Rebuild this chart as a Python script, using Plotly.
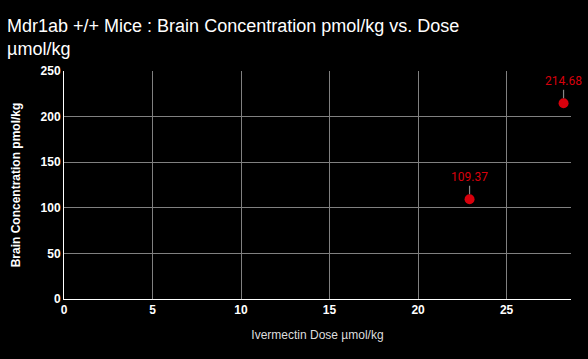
import plotly.graph_objects as go

dose = [22.91, 28.22]
brain_conc = [109.37, 214.68]
labels = ["109.37", "214.68"]

fig = go.Figure()
fig.add_trace(go.Scatter(
    x=dose, y=brain_conc, mode="markers",
    marker=dict(color="#d8000c", size=10),
    showlegend=False, hoverinfo="x+y",
))
for x, y, t in zip(dose, brain_conc, labels):
    fig.add_annotation(
        x=x, y=y, text=t, showarrow=True, arrowhead=0, arrowwidth=1.2,
        arrowcolor="#888888", ax=0, ay=-22, standoff=5,
        font=dict(color="#d8000c", size=12, family="Roboto, Arial, sans-serif"),
    )

fig.update_layout(
    width=588, height=359,
    paper_bgcolor="black", plot_bgcolor="black",
    margin=dict(l=64, r=17, t=71, b=60),
    title=dict(
        text="Mdr1ab +/+ Mice : Brain Concentration pmol/kg vs. Dose<br>µmol/kg",
        x=0.012, xanchor="left", yref="container", y=0.912, yanchor="top",
        font=dict(family="Liberation Sans, Arial, sans-serif", size=18, color="white"),
    ),
    font=dict(family="Liberation Sans, Arial, sans-serif", color="white", size=12),
    xaxis=dict(
        range=[0, 28.64], dtick=5, showgrid=True, gridcolor="#808080", gridwidth=1,
        showline=True, linecolor="white", linewidth=1, zeroline=False,
        tickfont=dict(size=12, color="white", family="Liberation Sans, Arial, sans-serif", weight="bold"),
        title=dict(text="Ivermectin Dose µmol/kg", font=dict(size=12, color="#dddddd"), standoff=14),
        ticks="", ticklen=0,
    ),
    yaxis=dict(
        range=[0, 250], dtick=50, showgrid=True, gridcolor="#808080", gridwidth=1,
        showline=True, linecolor="white", linewidth=1, zeroline=False,
        tickfont=dict(size=12, color="white", family="Liberation Sans, Arial, sans-serif", weight="bold"),
        title=dict(text="Brain Concentration pmol/kg", font=dict(size=12, color="white", weight="bold"), standoff=17),
        ticks="", ticklen=0,
    ),
)

fig.write_html(
    "out.html",
    config={"displayModeBar": False},
    post_script="document.body.style.margin='0';document.body.style.background='black';",
)
